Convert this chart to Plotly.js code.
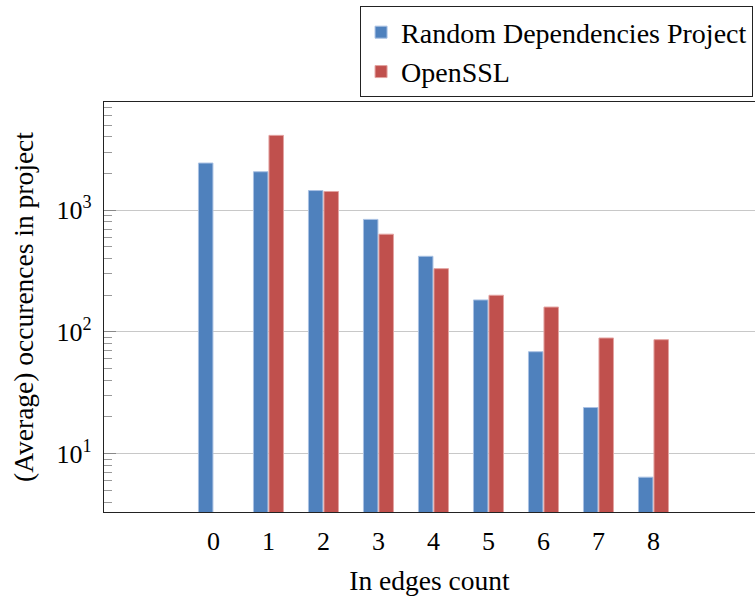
<!DOCTYPE html>
<html>
<head>
<meta charset="utf-8">
<script src="https://cdn.plot.ly/plotly-3.0.1.min.js"></script>
<style>html,body{margin:0;padding:0;background:#fff;}</style>
</head>
<body>
<div id="chart" style="width:755px;height:596px;"></div>
<script>
const categories = [0, 1, 2, 3, 4, 5, 6, 7, 8];
const randomDeps = [2440, 2070, 1450, 840, 418, 183, 68.7, 23.9, 6.4];
const openssl = [null, 4120, 1425, 635, 331, 200, 160, 89.1, 86.3];
const seriesNames = ['Random Dependencies Project', 'OpenSSL'];
const yTickVals = [10, 100, 1000];
const yTickText = ['10<sup>1</sup>', '10<sup>2</sup>', '10<sup>3</sup>'];
const yMinorVals = [4, 5, 6, 7, 8, 9, 20, 30, 40, 50, 60, 70, 80, 90,
                    200, 300, 400, 500, 600, 700, 800, 900, 2000, 3000, 4000, 5000, 6000, 7000];

const FONT = '"Liberation Serif", serif';
const Y_RANGE = [0.52, 3.889];

const traces = [
  {
    type: 'bar', name: seriesNames[0], x: categories, y: randomDeps,
    marker: {color: '#4F81BD', line: {color: '#A9C1E3', width: 1}}
  },
  {
    type: 'bar', name: seriesNames[1], x: categories, y: openssl,
    marker: {color: '#C0504D', line: {color: '#E3A3A1', width: 1}}
  },
  {
    type: 'scatter', mode: 'markers', x: [], y: [], yaxis: 'y2',
    showlegend: false, hoverinfo: 'skip'
  }
];

const layout = {
  width: 755, height: 596,
  margin: {l: 104, r: 0, t: 102, b: 84},
  paper_bgcolor: '#fff', plot_bgcolor: '#fff',
  font: {family: FONT, size: 26, color: '#000'},
  barmode: 'group', bargap: 0.436, bargroupgap: 0.065,
  showlegend: true,
  legend: {
    x: 0.997, xanchor: 'right', y: 1.233, yanchor: 'top',
    bordercolor: '#222', borderwidth: 1, bgcolor: '#fff',
    font: {family: FONT, size: 28}, tracegroupgap: 0
  },
  xaxis: {
    range: [-1.99, 9.846], tickvals: categories, ticktext: categories.map(String),
    ticks: '', showgrid: false, zeroline: false,
    showline: true, linecolor: '#222', linewidth: 1.2, mirror: true,
    tickfont: {family: FONT, size: 26}, ticklabelstandoff: 6,
    title: {text: 'In edges count', font: {family: FONT, size: 27.5}, standoff: 15}
  },
  yaxis: {
    type: 'log', range: Y_RANGE,
    tickmode: 'array', tickvals: yTickVals, ticktext: yTickText,
    ticks: 'inside', ticklen: 12, tickcolor: '#888', tickwidth: 1,
    showgrid: true, gridcolor: '#c8c8c8', gridwidth: 1.2, zeroline: false,
    showline: true, linecolor: '#222', linewidth: 1.2, mirror: false,
    tickfont: {family: FONT, size: 26}, ticklabelstandoff: 6,
    title: {text: '(Average) occurences in project', font: {family: FONT, size: 27.5}, standoff: 14}
  },
  yaxis2: {
    type: 'log', range: Y_RANGE, overlaying: 'y', side: 'left', anchor: 'x',
    tickmode: 'array', tickvals: yMinorVals, ticks: 'inside', ticklen: 8,
    tickcolor: '#999', tickwidth: 1, showticklabels: false,
    showgrid: false, zeroline: false, showline: false
  }
};

Plotly.newPlot('chart', traces, layout, {staticPlot: true, displayModeBar: false});
</script>
</body>
</html>
